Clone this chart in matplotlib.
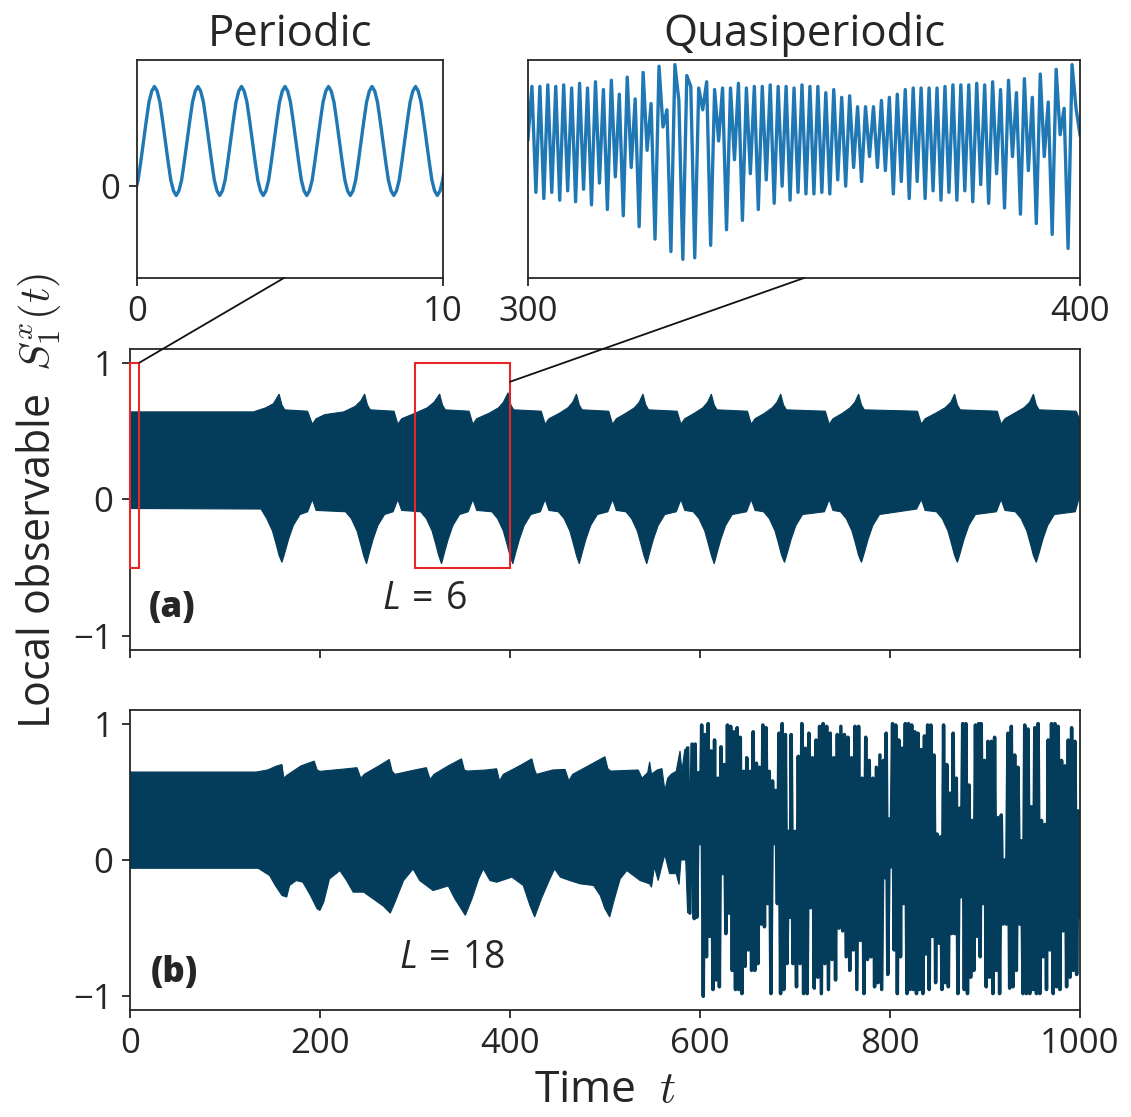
import numpy as np
import matplotlib
matplotlib.use('Agg')
import matplotlib.pyplot as plt
from matplotlib.patches import Rectangle, ConnectionPatch

plt.rcParams['font.family'] = ['Open Sans', 'DejaVu Sans']
plt.rcParams['mathtext.fontset'] = 'custom'
plt.rcParams['mathtext.rm'] = 'Open Sans'
plt.rcParams['mathtext.it'] = 'Open Sans:italic'
plt.rcParams['mathtext.bf'] = 'Open Sans:bold'

NAVY = '#033d5b'
BLUE = '#1f77b4'
RED = '#e8262a'
INK = '#262626'

# --- inset 1: periodic signal, t in [0, 10] (samples)
per_t = np.linspace(-0.14, 10.08, 116)
per_y = [-0.06, -0.03, 0.04, 0.16, 0.29, 0.42, 0.54, 0.61, 0.64, 0.61, 0.54, 0.42, 0.29, 0.16, 0.04, -0.03,
         -0.06, -0.03, 0.04, 0.16, 0.29, 0.42, 0.54, 0.61, 0.64, 0.61, 0.54, 0.42, 0.29, 0.16, 0.04, -0.03,
         -0.06, -0.03, 0.04, 0.16, 0.29, 0.42, 0.54, 0.61, 0.64, 0.61, 0.54, 0.42, 0.29, 0.16, 0.04, -0.03,
         -0.06, -0.03, 0.04, 0.16, 0.29, 0.42, 0.54, 0.61, 0.64, 0.61, 0.54, 0.42, 0.29, 0.16, 0.04, -0.03,
         -0.06, -0.03, 0.04, 0.16, 0.29, 0.42, 0.54, 0.61, 0.64, 0.61, 0.54, 0.42, 0.29, 0.16, 0.04, -0.03,
         -0.06, -0.03, 0.04, 0.16, 0.29, 0.42, 0.54, 0.61, 0.64, 0.61, 0.54, 0.42, 0.29, 0.16, 0.04, -0.03,
         -0.06, -0.03, 0.04, 0.16, 0.29, 0.42, 0.54, 0.61, 0.64, 0.61, 0.54, 0.42, 0.29, 0.16, 0.04, -0.03,
         -0.06, -0.03, 0.04, 0.16]

# --- inset 2: quasiperiodic signal, t in [300, 400] (successive extrema)
qp_y = [0.30,
        0.64, -0.04, 0.64, -0.08, 0.65, -0.04, 0.64, -0.09, 0.65, -0.03,
        0.63, -0.10, 0.66, -0.02, 0.63, -0.12, 0.67, 0.02, 0.62, -0.15,
        0.68, 0.06, 0.59, -0.19, 0.70, 0.12, 0.56, -0.26, 0.73, 0.23,
        0.53, -0.34, 0.77, 0.38, 0.49, -0.42, 0.78, 0.55, -0.47, 0.71,
        0.64, -0.46, 0.63, 0.49, 0.67, -0.38, 0.62, 0.29, 0.63, -0.28,
        0.63, 0.17, 0.66, -0.22, 0.63, 0.08, 0.64, -0.15, 0.64, 0.04,
        0.65, -0.11, 0.64, 0.00, 0.64, -0.09, 0.63, -0.04, 0.65, -0.05,
        0.64, -0.05, 0.64, -0.04, 0.60, -0.05, 0.62, 0.04, 0.57, 0.00,
        0.58, 0.12, 0.51, 0.03, 0.51, 0.19, 0.51, 0.12, 0.55, 0.10,
        0.57, -0.05, 0.59, 0.03, 0.62, -0.08, 0.63, 0.03, 0.63, -0.08,
        0.63, -0.03, 0.63, -0.09, 0.64, -0.04, 0.65, -0.09, 0.65, -0.03,
        0.65, -0.10, 0.66, 0.01, 0.65, -0.11, 0.67, 0.08, 0.62, -0.14,
        0.68, 0.19, 0.60, -0.18, 0.69, 0.10, 0.57, -0.24, 0.72, 0.19,
        0.54, -0.31, 0.75, 0.33, 0.50, -0.40, 0.78, 0.50, 0.33]
qp_t = np.linspace(300, 400, len(qp_y))

# --- panel (a), L = 6: envelope of the fast oscillation
a_up = [(0, 0.64), (130, 0.64), (143, 0.67), (151, 0.70), (157, 0.77), (160, 0.69), (163, 0.655),
        (187, 0.645), (192, 0.55), (196, 0.59), (205, 0.62), (225, 0.64), (237, 0.68), (243, 0.72),
        (247, 0.77), (250, 0.69), (253, 0.655), (278, 0.645), (282, 0.55), (286, 0.59), (300, 0.63),
        (313, 0.67), (320, 0.71), (326, 0.77), (329, 0.69), (332, 0.655), (357, 0.645), (361, 0.55),
        (365, 0.59), (378, 0.63), (388, 0.67), (393, 0.71), (398, 0.78), (401, 0.69), (404, 0.655),
        (433, 0.645), (437, 0.55), (441, 0.59), (452, 0.63), (461, 0.67), (466, 0.71), (470, 0.77),
        (473, 0.69), (476, 0.655), (504, 0.645), (508, 0.55), (512, 0.59), (522, 0.63), (531, 0.67),
        (536, 0.71), (540, 0.77), (543, 0.69), (546, 0.655), (576, 0.645), (580, 0.55), (584, 0.59),
        (594, 0.63), (603, 0.67), (608, 0.71), (612, 0.77), (615, 0.69), (618, 0.655), (650, 0.645),
        (654, 0.55), (658, 0.59), (668, 0.63), (676, 0.67), (681, 0.71), (685, 0.77), (688, 0.69),
        (691, 0.655), (732, 0.645), (736, 0.55), (740, 0.59), (750, 0.63), (758, 0.67), (763, 0.71),
        (767, 0.77), (770, 0.69), (773, 0.655), (829, 0.645), (833, 0.55), (837, 0.59), (848, 0.63),
        (858, 0.67), (864, 0.71), (868, 0.77), (871, 0.69), (874, 0.655), (913, 0.645), (917, 0.55),
        (921, 0.59), (931, 0.63), (941, 0.67), (947, 0.71), (951, 0.77), (954, 0.69), (957, 0.655),
        (996, 0.645), (1000, 0.58)]
a_lo = [(0, -0.066), (138, -0.07), (144, -0.14), (150, -0.23), (154, -0.33), (157, -0.41), (160, -0.46),
        (163, -0.39), (167, -0.29), (172, -0.19), (179, -0.11), (187, -0.09), (192, 0.0), (196, -0.08),
        (227, -0.09), (233, -0.14), (239, -0.23), (243, -0.33), (246, -0.41), (249, -0.47), (252, -0.39),
        (256, -0.29), (261, -0.19), (268, -0.11), (277, -0.09), (282, 0.0), (286, -0.08),
        (306, -0.09), (312, -0.14), (318, -0.23), (322, -0.33), (325, -0.41), (328, -0.47), (331, -0.39),
        (335, -0.29), (340, -0.19), (347, -0.11), (356, -0.09), (361, 0.0), (365, -0.08),
        (381, -0.09), (387, -0.14), (393, -0.23), (397, -0.33), (400, -0.41), (403, -0.47), (406, -0.39),
        (410, -0.29), (415, -0.19), (422, -0.11), (432, -0.09), (437, 0.0), (441, -0.08),
        (451, -0.09), (457, -0.14), (463, -0.23), (467, -0.33), (470, -0.41), (473, -0.47), (476, -0.39),
        (480, -0.29), (485, -0.19), (492, -0.11), (503, -0.09), (508, 0.0), (512, -0.08),
        (522, -0.09), (528, -0.14), (534, -0.23), (538, -0.33), (541, -0.41), (544, -0.47), (547, -0.39),
        (551, -0.29), (556, -0.19), (563, -0.11), (575, -0.09), (580, 0.0), (584, -0.08),
        (593, -0.09), (599, -0.14), (605, -0.23), (609, -0.33), (612, -0.41), (615, -0.47), (618, -0.39),
        (622, -0.29), (627, -0.19), (634, -0.11), (649, -0.09), (654, 0.0), (658, -0.08),
        (667, -0.09), (673, -0.14), (679, -0.23), (683, -0.33), (686, -0.41), (689, -0.46), (692, -0.39),
        (696, -0.29), (701, -0.19), (708, -0.11), (731, -0.09), (736, 0.0), (740, -0.08),
        (748, -0.09), (754, -0.14), (760, -0.23), (764, -0.33), (767, -0.41), (770, -0.46), (773, -0.39),
        (777, -0.29), (782, -0.19), (789, -0.11), (828, -0.07), (833, 0.0), (837, -0.08),
        (849, -0.09), (855, -0.14), (861, -0.23), (865, -0.33), (868, -0.41), (871, -0.46), (874, -0.39),
        (878, -0.29), (883, -0.19), (890, -0.11), (912, -0.09), (917, 0.0), (921, -0.08),
        (932, -0.09), (938, -0.14), (944, -0.23), (948, -0.33), (951, -0.41), (954, -0.46), (957, -0.39),
        (961, -0.29), (966, -0.19), (973, -0.11), (995, -0.09), (1000, 0.03)]

# --- panel (b), L = 18: envelope up to t ~ 587, then the resolved line
b_up = [(0, 0.645), (133, 0.645), (145, 0.66), (154, 0.688), (160, 0.70), (162, 0.60), (165, 0.62),
        (180, 0.69), (194, 0.725), (197, 0.66), (200, 0.65), (230, 0.67), (239, 0.677), (243, 0.60),
        (247, 0.63), (262, 0.69), (273, 0.737), (276, 0.65), (279, 0.628), (300, 0.66), (312, 0.677),
        (316, 0.59), (320, 0.628), (335, 0.69), (349, 0.742), (352, 0.66), (355, 0.652), (375, 0.66),
        (386, 0.669), (389, 0.58), (393, 0.628), (410, 0.69), (423, 0.742), (426, 0.66), (428, 0.628),
        (445, 0.66), (458, 0.664), (462, 0.58), (466, 0.628), (485, 0.70), (500, 0.757), (503, 0.67),
        (506, 0.652), (535, 0.66), (539, 0.60), (545, 0.64), (547, 0.72), (549, 0.63), (555, 0.66),
        (560, 0.67), (563, 0.51), (566, 0.60), (570, 0.63), (575, 0.65), (579, 0.80), (581, 0.65),
        (584, 0.81), (587, 0.82)]
b_lo = [(0, -0.061), (135, -0.061), (147, -0.114), (153, -0.187), (160, -0.26), (165, -0.272),
        (168, -0.187), (175, -0.151), (182, -0.163), (190, -0.26), (197, -0.358), (200, -0.37),
        (204, -0.309), (210, -0.139), (221, -0.078), (228, -0.151), (235, -0.236), (246, -0.236),
        (256, -0.285), (267, -0.34), (274, -0.39), (279, -0.309), (288, -0.151), (298, -0.066),
        (305, -0.151), (319, -0.224), (326, -0.21), (335, -0.19), (342, -0.285), (353, -0.406),
        (360, -0.285), (367, -0.139), (372, -0.066), (379, -0.151), (386, -0.163), (402, -0.126),
        (414, -0.187), (421, -0.333), (426, -0.418), (433, -0.285), (442, -0.139), (447, -0.066),
        (453, -0.126), (463, -0.151), (474, -0.175), (488, -0.187), (495, -0.26), (500, -0.358),
        (505, -0.418), (510, -0.285), (516, -0.139), (523, -0.078), (530, -0.114), (537, -0.151),
        (547, -0.175), (549, -0.20), (552, -0.05), (556, -0.151), (560, -0.04), (563, 0.04),
        (568, -0.10), (575, -0.10), (578, -0.18), (580, 0.0), (585, 0.0), (587, -0.39)]

# resolved strokes of panel (b), successive max / min per time segment
b_seg_t = [(587, 594), (595, 695), (696, 795), (796, 895), (896, 1000)]
b_seg_y = [
    [0.82, -0.39, 0.85, -0.43],
    [0.85, -0.42, 0.64, 0.12, 0.99, -1.0, 0.92, -0.71, 1.0, -0.56, 0.80, -0.95, 0.88, -0.88,
     0.60, -0.93, 0.83, -0.10, 0.70, -0.54, 0.99, -0.39, 0.98, -0.81, 0.94, -0.95, 0.97, -0.95,
     0.90, -0.98, 0.65, -0.78, 0.75, -0.66, 0.65, -0.81, 0.94, -0.81, 0.71, -0.76, 0.68, -0.47,
     0.99, -0.49, 0.97, -0.32, 0.65, -0.98, 0.58, 0.12, 0.51, -0.32, 0.93, -0.98, 1.0, -0.95,
     0.92, -0.76, 0.21, -0.42],
    [0.92, -0.76, 0.21, -0.93, 0.76, -0.76, 1.0, -0.98, 0.82, -0.98, 0.93, -0.35, 0.75, -0.94,
     0.88, -0.86, 0.98, -0.98, 1.0, -0.76, 0.98, -0.95, 0.93, -0.73, 0.75, -0.88, 0.92, -0.50,
     0.98, -0.52, 0.92, -0.71, 0.90, -0.81, 0.75, -0.66, 0.98, -0.95, 0.98, -0.59, 0.60, -0.98,
     0.90, -0.73, 0.73, -0.71, 0.60, -0.93, 0.68, -0.90, 0.77, -0.95, 0.73, -0.13],
    [0.93, -0.84, 0.30, -0.05, 1.0, -0.66, 0.99, -0.98, 0.88, -0.71, 0.82, -0.32, 1.0, -0.98,
     1.0, -0.95, 0.99, -0.95, 0.94, -0.98, 0.93, -0.95, 0.81, -0.98, 0.91, -0.69, 0.99, -0.95,
     0.99, -0.56, 0.77, -0.90, 0.19, -0.61, 0.17, -0.95, 0.99, -0.90, 0.70, -0.93, 0.49, -0.54,
     0.93, -0.54, 0.60, -0.98, 0.38, -0.27, 1.0, -0.95, 1.0, -0.98, 0.55, -0.86, 0.29, -0.81,
     0.99, -0.56, 1.0, -0.71],
    [1.0, -0.32, 0.73, -0.93, 0.87, -0.86, 0.87, -0.98, 0.90, -0.81, 0.31, -0.98, 0.33, -0.47,
     0.0, -0.47, 0.93, -0.94, 0.98, -0.93, 0.77, -0.81, 0.68, -0.47, 0.14, -0.98, 0.99, -0.98,
     0.96, -0.98, 0.39, -0.95, 0.97, -0.98, 1.0, -0.98, 0.29, -0.71, 0.26, -0.95, 0.88, -0.66,
     1.0, -0.98, 1.0, -0.93, 0.98, -0.95, 0.73, -0.52, 0.69, -0.93, 0.88, -0.86, 0.97, -0.81,
     0.87, -0.84, 0.36, -0.42],
]


def style(ax):
    for s in ax.spines.values():
        s.set_linewidth(1.3)
        s.set_color(INK)
    ax.tick_params(direction='out', length=6, width=1.3, color=INK,
                   labelcolor=INK, labelsize=25, pad=6)


def envelope(ax, up, lo):
    ut, uy = zip(*up)
    lt, ly = zip(*lo)
    ax.fill(list(ut) + list(lt[::-1]), list(uy) + list(ly[::-1]),
            color=NAVY, lw=0.8, ec=NAVY)


fig = plt.figure(figsize=(11.31, 11.17), dpi=100)
ax_p = fig.add_axes([0.1211, 0.7511, 0.2706, 0.1952])
ax_q = fig.add_axes([0.4668, 0.7511, 0.4881, 0.1952])
ax_a = fig.add_axes([0.1149, 0.4181, 0.84, 0.2695])
ax_b = fig.add_axes([0.1149, 0.0958, 0.84, 0.2686])

# insets
ax_p.plot(per_t, per_y, color=BLUE, lw=2.4, solid_joinstyle='round')
ax_p.set_xlim(0, 10)
ax_p.set_ylim(-0.59, 0.81)
ax_p.set_xticks([0, 10])
ax_p.set_yticks([0])
ax_p.set_title('Periodic', fontsize=31.5, pad=10, color=INK)
style(ax_p)

ax_q.plot(qp_t, qp_y, color=BLUE, lw=2.4, solid_joinstyle='round')
ax_q.set_xlim(300, 400)
ax_q.set_ylim(-0.59, 0.81)
ax_q.set_xticks([300, 400])
ax_q.set_yticks([])
ax_q.set_title('Quasiperiodic', fontsize=31.5, pad=10, color=INK)
style(ax_q)

# panel (a)
envelope(ax_a, a_up, a_lo)
# panel (b)
envelope(ax_b, b_up, b_lo)
chaos_t = np.concatenate([np.linspace(t0, t1, len(v)) for (t0, t1), v in zip(b_seg_t, b_seg_y)])
chaos_y = np.concatenate(b_seg_y)
ax_b.plot(chaos_t, chaos_y, color=NAVY, lw=2.5)

for ax in (ax_a, ax_b):
    ax.set_xlim(0, 1000)
    ax.set_ylim(-1.1, 1.1)
    ax.set_yticks([-1, 0, 1])
    ax.set_xticks(np.arange(0, 1001, 200))
    style(ax)
ax_a.tick_params(labelbottom=False)

ax_a.text(44, -0.79, '(a)', fontsize=25, fontweight='heavy', ha='center', va='center', color=INK)
ax_b.text(47, -0.83, '(b)', fontsize=25, fontweight='heavy', ha='center', va='center', color=INK)
ax_a.text(310, -0.73, r'$L\,=\,6$', fontsize=27, ha='center', va='center', color=INK)
ax_b.text(339, -0.72, r'$L\,=\,18$', fontsize=27, ha='center', va='center', color=INK)

# zoom boxes and connectors
for x0, w in [(0, 10), (300, 100)]:
    ax_a.add_patch(Rectangle((x0, -0.5), w, 1.5, fill=False, ec=RED, lw=1.5,
                             clip_on=False, zorder=5))
for ax_in, fx, xy in [(ax_p, 0.48, (10, 1.0)), (ax_q, 0.5, (400, 0.86))]:
    con = ConnectionPatch(xyA=(fx, 0), coordsA='axes fraction', axesA=ax_in,
                          xyB=xy, coordsB='data', axesB=ax_a, color='#111111', lw=1.3)
    fig.add_artist(con)

fig.text(0.034, 0.552, 'Local observable  $S_1^x(t)$', rotation=90, fontsize=31,
         ha='center', va='center', color=INK, math_fontfamily='cm')
ax_b.set_xlabel('Time  $t$', fontsize=32, color=INK, math_fontfamily='cm', labelpad=6)

fig.savefig('out.png', dpi=100)
